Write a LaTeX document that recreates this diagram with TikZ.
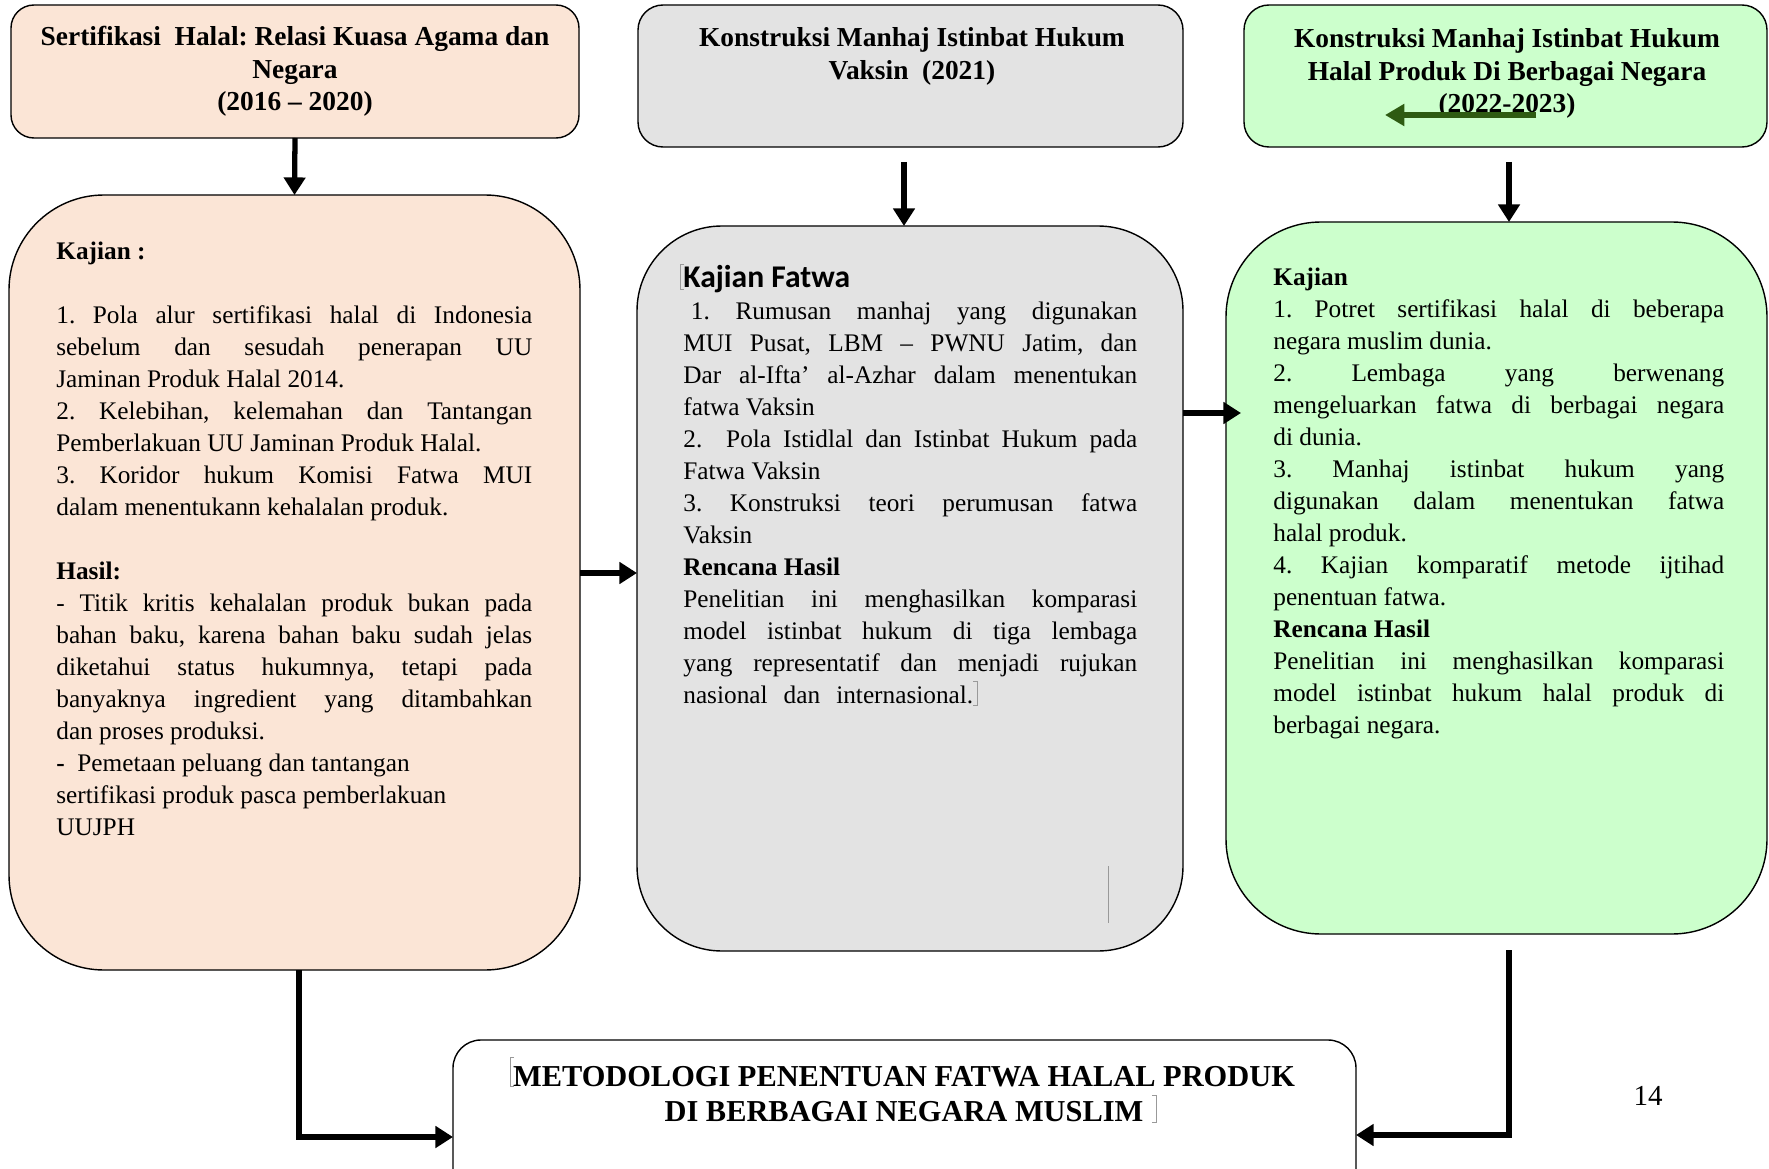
\documentclass[tikz,border=0pt]{standalone}
\usepackage{fontspec}
\setmainfont{Liberation Serif}
\newfontfamily\calibri{Carlito}
\usetikzlibrary{arrows.meta,fit,calc}
\definecolor{peach}{HTML}{FBE5D6}
\definecolor{greybox}{HTML}{E3E3E3}
\definecolor{greenbox}{HTML}{CCFFCC}
\definecolor{darkgreen}{HTML}{2E5B12}
\newcommand\jl[2]{\makebox[#1][s]{#2}}
\newlength\wA \setlength\wA{9.52cm}
\newlength\wB \setlength\wB{9.08cm}
\newlength\wC \setlength\wC{9.02cm}
\frenchspacing
\begin{document}
\begin{tikzpicture}[x=0.02cm,y=-0.02cm,
  box/.style={draw=black, line width=0.8pt, inner sep=0pt, outer sep=0pt},
  body/.style={inner sep=0pt, anchor=north west, align=left, font=\frenchspacing\fontsize{14.4}{18.2}\selectfont},
  ttl/.style={inner sep=0pt, anchor=north, align=center, font=\bfseries\fontsize{15.6}{18.4}\selectfont},
  arr/.style={line width=3pt, -{Triangle[length=10pt,width=12pt]}},
  garr/.style={draw=darkgreen, line width=3.5pt, -{Triangle[length=11pt,width=12pt]}},
  cur/.style={draw=black!40, line width=0.5pt}]
\useasboundingbox (0,0) rectangle (1769,1169);
\fill[white] (0,0) rectangle (1769,1169);

% boxes
\node[box, fill=peach, rounded corners=0.46cm, fit={(11,5) (579,138)}] (b1) {};
\node[box, fill=peach, rounded corners=1.9cm, fit={(9,195) (580,970)}] (b2) {};
\node[box, fill=greybox, rounded corners=0.5cm, fit={(638,5) (1183,147)}] (b3) {};
\node[box, fill=greybox, rounded corners=1.7cm, fit={(637,226) (1183,951)}] (b4) {};
\node[box, fill=greenbox, rounded corners=0.5cm, fit={(1244,5) (1767,147)}] (b5) {};
\node[box, fill=greenbox, rounded corners=1.9cm, fit={(1226,222) (1767,934)}] (b6) {};
\node[box, fill=white, rounded corners=0.56cm, fit={(453,1040) (1356,1215)}] (b7) {};

% titles
\node[ttl] (t1) at (295,22.7) {\strut Sertifikasi\ \ Halal: Relasi Kuasa Agama dan\\Negara\\(2016 – 2020)};
\node[ttl] (t3) at (912,23.7) {\strut Konstruksi Manhaj Istinbat Hukum\\Vaksin\ \ (2021)};
\node[ttl] (t5) at (1507,24.7) {\strut Konstruksi Manhaj Istinbat Hukum\\Halal Produk Di Berbagai Negara\\(2022-2023)};

% left body
\node[body] (txA) at (56,236.8) {\strut\textbf{Kajian :}\\
\mbox{}\\
\jl{\wA}{1. Pola alur sertifikasi halal di Indonesia}\\
\jl{\wA}{sebelum dan sesudah penerapan UU}\\
Jaminan Produk Halal 2014.\\
\jl{\wA}{2. Kelebihan, kelemahan dan Tantangan}\\
Pemberlakuan UU Jaminan Produk Halal.\\
\jl{\wA}{3. Koridor hukum Komisi Fatwa MUI}\\
dalam menentukann kehalalan produk.\\
\mbox{}\\
\textbf{Hasil:}\\
\jl{\wA}{- Titik kritis kehalalan produk bukan pada}\\
\jl{\wA}{bahan baku, karena bahan baku sudah jelas}\\
\jl{\wA}{diketahui status hukumnya, tetapi pada}\\
\jl{\wA}{banyaknya ingredient yang ditambahkan}\\
dan proses produksi.\\
\textbf{-}\ \ Pemetaan peluang dan tantangan\\
sertifikasi produk pasca pemberlakuan\\
UUJPH};

% middle body
\node[body] (txB) at (683,264.8) {\strut{\calibri\bfseries\fontsize{18}{18}\selectfont Kajian Fatwa}\\
\jl{\wB}{\hspace{0.3em}1. Rumusan manhaj yang digunakan}\\
\jl{\wB}{MUI Pusat, LBM – PWNU Jatim, dan}\\
\jl{\wB}{Dar al-Ifta’ al-Azhar dalam menentukan}\\
fatwa Vaksin\\
\jl{\wB}{2.\ \ Pola Istidlal dan Istinbat Hukum pada}\\
Fatwa Vaksin\\
\jl{\wB}{3. Konstruksi teori perumusan fatwa}\\
Vaksin\\
\textbf{Rencana Hasil}\\
\jl{\wB}{Penelitian ini menghasilkan komparasi}\\
\jl{\wB}{model istinbat hukum di tiga lembaga}\\
\jl{\wB}{yang representatif dan menjadi rujukan}\\
\jl{5.8cm}{nasional dan internasional.}};

% right body
\node[body] (txC) at (1273,262.8) {\strut\textbf{Kajian}\\
\jl{\wC}{1. Potret sertifikasi halal di beberapa}\\
negara muslim dunia.\\
\jl{\wC}{2. Lembaga yang berwenang}\\
\jl{\wC}{mengeluarkan fatwa di berbagai negara}\\
di dunia.\\
\jl{\wC}{3. Manhaj istinbat hukum yang}\\
\jl{\wC}{digunakan dalam menentukan fatwa}\\
halal produk.\\
\jl{\wC}{4. Kajian komparatif metode ijtihad}\\
penentuan fatwa.\\
\textbf{Rencana Hasil}\\
\jl{\wC}{Penelitian ini menghasilkan komparasi}\\
\jl{\wC}{model istinbat hukum halal produk di}\\
berbagai negara.};

% bottom text
\node[inner sep=0pt, anchor=north, align=center, font=\bfseries\fontsize{17.3}{19.8}\selectfont] (tb) at (904,1062) {\strut METODOLOGI PENENTUAN FATWA HALAL PRODUK\\DI BERBAGAI NEGARA MUSLIM};

\node[inner sep=0pt, anchor=base, font=\fontsize{16.5}{19}\selectfont] (pg) at (1648,1105) {14};

% editing marks
\draw[cur] (684,264) -- (680,264) -- (680,289) -- (684,289);
\draw[cur] (973,681) -- (977,681) -- (977,705) -- (973,705);
\draw[cur] (514,1057) -- (510,1057) -- (510,1086) -- (514,1086);
\draw[cur] (1152,1095) -- (1156,1095) -- (1156,1122) -- (1152,1122);
\draw[cur] (1108,866) -- (1108,923);

% connectors
\draw[arr] (b1.south) -- (b2.north);
\coordinate (a2s) at (904,162);
\draw[arr] (a2s) -- (a2s |- b4.north);
\coordinate (a3s) at (1509,162);
\draw[arr] (a3s) -- (a3s |- b6.north);
\coordinate (h1) at (0,573);
\draw[arr] (b2.east |- h1) -- (b4.west |- h1);
\coordinate (h2) at (1241,413);
\draw[arr] (b4.east |- h2) -- (h2);
\coordinate (l1) at (299,1137);
\draw[arr] (l1 |- b2.south) -- (l1) -- (b7.west |- l1);
\coordinate (r0) at (1509,950);
\coordinate (r1) at (1509,1135);
\draw[arr] (r0) -- (r1) -- (b7.east |- r1);
\coordinate (g0) at (1536,115);
\coordinate (g1) at (1385,115);
\draw[garr] (g0) -- (g1);
\end{tikzpicture}
\end{document}
